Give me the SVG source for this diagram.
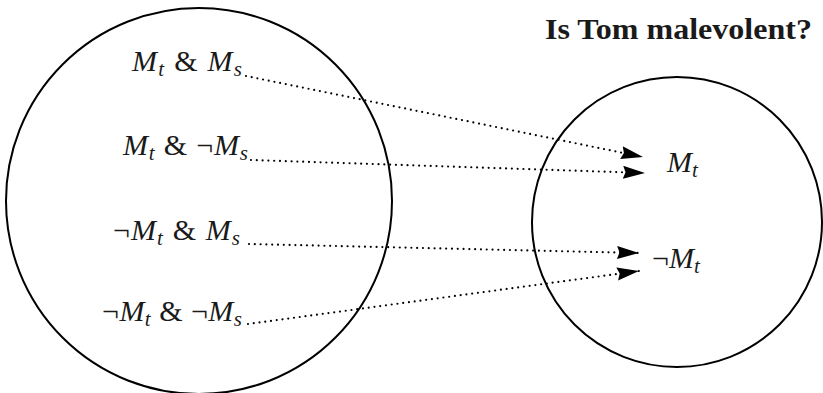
<svg xmlns="http://www.w3.org/2000/svg" width="823" height="393" viewBox="0 0 823 393">
<style>
.ring{fill:none;stroke:#000;stroke-width:2}
.m{font-family:"Liberation Serif",serif;font-size:30px;fill:#1a1a1a}
.i{font-style:italic}
.sub{font-size:21px;font-style:italic}
.dot{fill:none;stroke:#000;stroke-width:2.2;stroke-dasharray:0 5.8;stroke-linecap:round}
.title{font-family:"Liberation Serif",serif;font-size:30px;font-weight:bold;fill:#1a1a1a}
</style>
<defs>
<marker id="arr" markerUnits="userSpaceOnUse" markerWidth="24" markerHeight="14" refX="22" refY="6.5" orient="auto">
<path d="M0,0 L22,6.5 L0,13 L2.5,6.5 z" fill="#000"/>
</marker>
</defs>
<g id="title"><text class="title" x="545" y="39" textLength="267" lengthAdjust="spacingAndGlyphs">Is Tom malevolent?</text></g>
<g id="worlds">
<circle class="ring" cx="199" cy="201" r="193"/>
</g>
<g id="answers">
<circle class="ring" cx="677" cy="222" r="145"/>
</g>
<g id="n1"><text class="m" x="132" y="71" textLength="110"><tspan class="i">M</tspan><tspan class="sub" dy="5">t</tspan><tspan dy="-5"> &amp; </tspan><tspan class="i">M</tspan><tspan class="sub" dy="5">s</tspan></text></g>
<g id="n2"><text class="m" x="123" y="155" textLength="125"><tspan class="i">M</tspan><tspan class="sub" dy="5">t</tspan><tspan dy="-5"> &amp; ¬</tspan><tspan class="i">M</tspan><tspan class="sub" dy="5">s</tspan></text></g>
<g id="n3"><text class="m" x="113" y="240" textLength="127"><tspan>¬</tspan><tspan class="i">M</tspan><tspan class="sub" dy="5">t</tspan><tspan dy="-5"> &amp; </tspan><tspan class="i">M</tspan><tspan class="sub" dy="5">s</tspan></text></g>
<g id="n4"><text class="m" x="102" y="321" textLength="140"><tspan>¬</tspan><tspan class="i">M</tspan><tspan class="sub" dy="5">t</tspan><tspan dy="-5"> &amp; ¬</tspan><tspan class="i">M</tspan><tspan class="sub" dy="5">s</tspan></text></g>
<g id="a1"><text class="m" x="667" y="172"><tspan class="i">M</tspan><tspan class="sub" dy="5">t</tspan></text></g>
<g id="a2"><text class="m" x="652" y="268"><tspan>¬</tspan><tspan class="i">M</tspan><tspan class="sub" dy="5">t</tspan></text></g>
<g id="connectors">
<path class="dot" d="M246,76 L643,157" marker-end="url(#arr)"/>
<path class="dot" d="M251,160 L645,173" marker-end="url(#arr)"/>
<path class="dot" d="M249,244 L639,253" marker-end="url(#arr)"/>
<path class="dot" d="M248,324 L639,271" marker-end="url(#arr)"/>
</g>
</svg>
